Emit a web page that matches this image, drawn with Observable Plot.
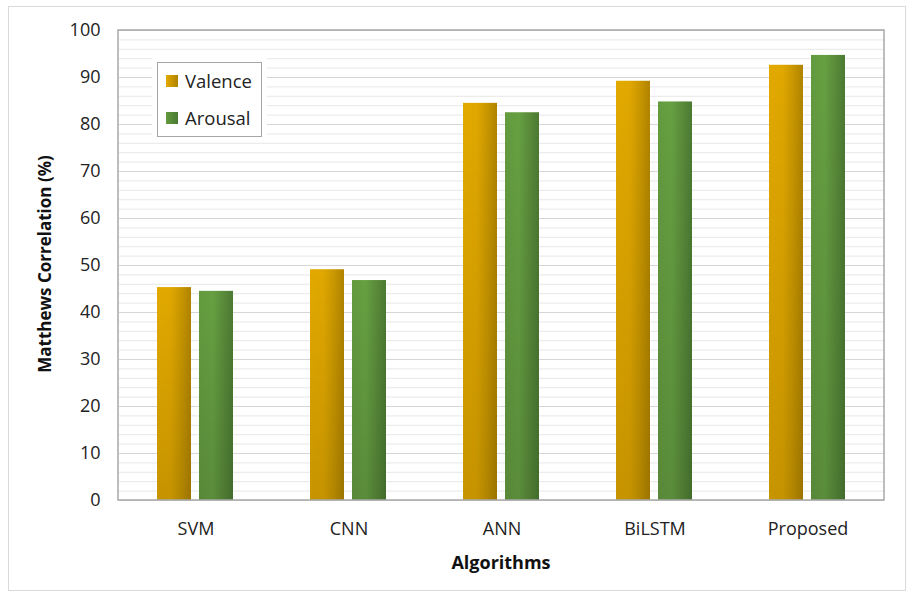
<!DOCTYPE html>
<html>
<head>
<meta charset="utf-8">
<script src="https://cdn.jsdelivr.net/npm/d3@7"></script>
<script src="https://cdn.jsdelivr.net/npm/@observablehq/plot@0.6"></script>
<style>
  html, body { margin: 0; padding: 0; background: #fff; }
  #wrap { position: relative; width: 906px; height: 591px; font-family: "Open Sans", sans-serif; }
  #legend {
    position: absolute; left: 157px; top: 62px; width: 103px; height: 73px;
    border: 1px solid #a6a6a6; background: #fff; box-shadow: 0 0 0 5px #fff;
    font-family: "Open Sans", sans-serif; font-size: 18.5px; color: #222;
  }
  .li { position: absolute; left: 8px; display: flex; align-items: center; line-height: 20px; }
  .sw { width: 12px; height: 12px; margin-right: 7px; }
</style>
</head>
<body>
<div id="wrap"></div>
<script>
const algorithms = ["SVM", "CNN", "ANN", "BiLSTM", "Proposed"];
const series = ["Valence", "Arousal"];
const valence = [45.3, 49.1, 84.5, 89.2, 92.6];
const arousal = [44.5, 46.8, 82.5, 84.8, 94.7];
const yTicks = [0, 10, 20, 30, 40, 50, 60, 70, 80, 90, 100];
const minorTicks = d3.range(0, 101, 2);

const table = [];
algorithms.forEach((a, i) => {
  table.push({algo: a, series: "Valence", value: valence[i]});
  table.push({algo: a, series: "Arousal", value: arousal[i]});
});

const W = 906, H = 591, mL = 118, mR = 22, mT = 30, mB = 91;

const chart = Plot.plot({
  width: W, height: H,
  marginLeft: mL, marginRight: mR, marginTop: mT, marginBottom: mB,
  style: {fontFamily: "Open Sans, sans-serif", fontSize: "18px", color: "#222", background: "#fff"},
  fx: {domain: algorithms, padding: 0, label: null, tickSize: 0, tickPadding: 22},
  x: {domain: series, paddingInner: 0.186, paddingOuter: 0.874, axis: null},
  y: {domain: [0, 100], ticks: yTicks, tickSize: 0, tickPadding: 19, label: null, tickFormat: d => d},
  marks: [
    Plot.ruleY(minorTicks, {stroke: "#ececec", strokeWidth: 1.2}),
    Plot.ruleY(yTicks, {stroke: "#d6d6d6", strokeWidth: 1.2}),
    Plot.barY(table.filter(d => d.series === "Valence"), {fx: "algo", x: "series", y: "value", fill: "url(#gV)"}),
    Plot.barY(table.filter(d => d.series === "Arousal"), {fx: "algo", x: "series", y: "value", fill: "url(#gA)"}),
    Plot.barY(table, {fx: "algo", x: "series", y: "value", fill: "url(#shade)"})
  ]
});

const svg = d3.select(chart);
const defs = svg.insert("defs", ":first-child");
function hgrad(id, stops) {
  const g = defs.append("linearGradient").attr("id", id).attr("x1", 0).attr("y1", 0).attr("x2", 1).attr("y2", 0);
  stops.forEach(([o, c]) => g.append("stop").attr("offset", o).attr("stop-color", c));
}
hgrad("gV", [[0, "#e2a900"], [0.4, "#e0a700"], [0.7, "#c99700"], [1, "#b08300"]]);
hgrad("gA", [[0, "#639a3f"], [0.4, "#66a042"], [0.7, "#5a8c3a"], [1, "#4b7a32"]]);
const sh = defs.append("linearGradient").attr("id", "shade").attr("x1", 0).attr("y1", 0).attr("x2", 0).attr("y2", 1);
sh.append("stop").attr("offset", 0).attr("stop-color", "#000").attr("stop-opacity", 0);
sh.append("stop").attr("offset", 1).attr("stop-color", "#000").attr("stop-opacity", 0.12);

// plot area border
svg.append("rect").attr("x", mL).attr("y", mT).attr("width", W - mL - mR).attr("height", H - mT - mB)
  .attr("fill", "none").attr("stroke", "#a8a8a8").attr("stroke-width", 1.5);
// outer chart border
svg.append("rect").attr("x", 8.5).attr("y", 6.5).attr("width", W - 9).attr("height", H - 7)
  .attr("fill", "none").attr("stroke", "#d9d9d9").attr("stroke-width", 1);
// axis titles
svg.append("text").attr("x", 501).attr("y", 569).attr("text-anchor", "middle")
  .attr("font-weight", "bold").attr("font-size", 18).attr("fill", "#111").text("Algorithms");
svg.append("text").attr("transform", "translate(51,264) rotate(-90)").attr("text-anchor", "middle")
  .attr("font-weight", "bold").attr("font-size", 17).attr("fill", "#111").text("Matthews Correlation (%)");

const wrap = document.getElementById("wrap");
wrap.appendChild(chart);
const lg = document.createElement("div");
lg.id = "legend";
lg.innerHTML = `<div class="li" style="top:8px"><div class="sw" style="background:linear-gradient(90deg,#e2a900,#b08300)"></div>${series[0]}</div>
<div class="li" style="top:45px"><div class="sw" style="background:linear-gradient(90deg,#639a3f,#4b7a32)"></div>${series[1]}</div>`;
wrap.appendChild(lg);
</script>
</body>
</html>
